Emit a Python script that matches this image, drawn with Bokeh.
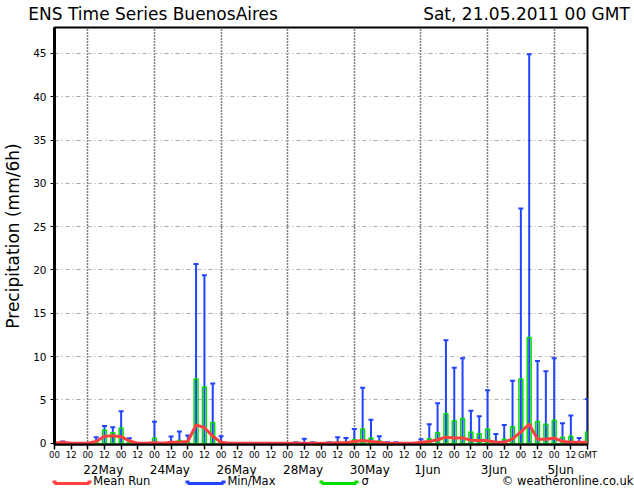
from bokeh.plotting import figure
from bokeh.models import Range1d, FixedTicker, LinearAxis
from bokeh.embed import file_html
from bokeh.resources import INLINE

# ---------------- data (6-hourly steps from Sat 21.05.2011 00 GMT) ----------------
step_hours = 6
max_vals = [0, 0.2, 0, 0, 0, 0.7, 2.0, 1.84, 3.7, 0.56,
            0, 0, 2.48, 0, 0.76, 1.36, 0.9, 20.7, 19.4, 6.9,
            0.8, 0, 0, 0, 0, 0, 0, 0, 0, 0.1,
            0.5, 0.1, 0, 0.1, 0.7, 0.6, 1.65, 6.4, 2.7, 0.8,
            0.1, 0.1, 0, 0, 0.45, 2.2, 4.6, 11.9, 8.7, 9.8,
            3.75, 3.1, 6.1, 1.05, 2.1, 7.2, 27.1, 44.9, 9.5, 8.3,
            9.8, 2.3, 3.2, 0.6, 5.1]
sigma_vals = [0, 0.05, 0, 0, 0, 0.1, 1.5, 1.2, 1.76, 0.1,
              0, 0, 0.56, 0, 0.1, 0.3, 0.1, 7.4, 6.5, 2.4,
              0.1, 0, 0, 0, 0, 0, 0, 0, 0, 0,
              0, 0, 0, 0, 0.1, 0, 0.4, 1.65, 0.6, 0.25,
              0, 0, 0, 0, 0, 0.5, 1.2, 3.4, 2.6, 2.85,
              1.3, 1.1, 1.64, 0.2, 0.47, 1.9, 7.4, 12.2, 2.5, 2.2,
              2.65, 0.7, 0.8, 0.1, 1.3]
mean_vals = [0, 0.1, 0, 0, 0, 0.2, 0.8, 0.85, 0.75, 0.25,
             0, 0, 0.05, 0, 0.1, 0.1, 0.2, 2.1, 1.8, 0.8,
             0.1, 0, 0, 0, 0, 0, 0, 0, 0, 0,
             0, 0, 0, 0, 0.05, 0.05, 0.2, 0.3, 0.2, 0.1,
             0, 0, 0, 0, 0.1, 0.2, 0.4, 0.7, 0.6, 0.6,
             0.35, 0.3, 0.3, 0.1, 0.1, 0.5, 1.3, 2.2, 0.45, 0.45,
             0.6, 0.2, 0.1, 0.1, 0.1]

hour_labels = ["00", "12"] * 16 + ["GMT"]
date_labels = ["22May", "24May", "26May", "28May", "30May", "1Jun", "3Jun", "5Jun"]
date_day_index = [1, 3, 5, 7, 9, 11, 13, 15]   # days after 21 May
y_ticks = [0, 5, 10, 15, 20, 25, 30, 35, 40, 45]

title_text = "ENS Time Series BuenosAires"
run_text = "Sat, 21.05.2011 00 GMT"
legend_texts = ["Mean Run", "Min/Max", "\u03c3"]
credit_text = "\u00a9 weatheronline.co.uk"

RED = "#ff4040"
BLUE = "#2244ff"
GREEN = "#00dd00"
FONT = "DejaVu Sans"

hours = [i * step_hours for i in range(len(max_vals))]
X_END = 384.0
W, H = 634, 490
FRAME_L, FRAME_R = 51, 587
px_per_h = (FRAME_R - FRAME_L) / X_END


def hx(px):
    return round((px - FRAME_L) / px_per_h, 3)


p = figure(width=W, height=H, output_backend="svg", toolbar_location=None,
           x_range=Range1d(0, X_END), y_range=Range1d(-0.15, 48.0),
           min_border_left=FRAME_L, min_border_right=W - FRAME_R, min_border_top=26,
           min_border_bottom=46)
p.background_fill_color = "white"
p.border_fill_color = "white"
p.outline_line_color = "black"
p.outline_line_width = 2

# grids
p.xgrid.ticker = FixedTicker(ticks=[d * 24 for d in date_day_index])
p.xgrid.grid_line_color = "black"
p.xgrid.grid_line_dash = "1 2"
p.xgrid.grid_line_width = 1.5
p.ygrid.ticker = FixedTicker(ticks=y_ticks[1:])
p.ygrid.grid_line_color = "#a8a8a8"
p.ygrid.grid_line_dash = "4 3 1 3"
p.ygrid.grid_line_width = 1

# x axis (hours)
xt = [i * 12 for i in range(len(hour_labels))]
p.xaxis.ticker = FixedTicker(ticks=xt)
p.xaxis.major_label_overrides = {t: lab for t, lab in zip(xt, hour_labels)}
p.xaxis.major_tick_out = 5
p.xaxis.major_tick_in = 0
p.xaxis.minor_tick_line_color = None
p.xaxis.major_tick_line_width = 1.5
p.xaxis.axis_line_width = 2
p.xaxis.major_label_standoff = 0
p.xaxis.major_label_text_font = FONT
p.xaxis.major_label_text_font_size = "8.5px"
p.xaxis.major_label_text_color = "black"

# y axis
p.yaxis.ticker = FixedTicker(ticks=y_ticks)
p.yaxis.major_tick_out = 4
p.yaxis.major_tick_in = 0
p.yaxis.minor_tick_line_color = None
p.yaxis.axis_line_width = 3
p.yaxis.major_label_standoff = 4
p.yaxis.major_label_text_font = FONT
p.yaxis.major_label_text_font_size = "10.5px"
p.yaxis.major_label_text_color = "black"
p.yaxis.axis_label = "Precipitation (mm/6h)"
p.yaxis.axis_label_text_font = FONT
p.yaxis.axis_label_text_font_size = "17px"
p.yaxis.axis_label_text_font_style = "normal"
p.yaxis.axis_label_text_color = "black"
p.yaxis.axis_label_standoff = 7


def text_axis(ticks, labels, size, standoff):
    return LinearAxis(ticker=FixedTicker(ticks=ticks),
                      major_label_overrides={t: lab for t, lab in zip(ticks, labels)},
                      axis_line_color=None, major_tick_line_color=None, minor_tick_line_color=None,
                      major_tick_out=0, major_tick_in=0, major_label_standoff=standoff,
                      major_label_text_font=FONT, major_label_text_font_size=size,
                      major_label_text_color="black")


# header row: title (left) and run time (right)
title_font_px = 17
title_ticks = [hx(25 + 14.73 * title_font_px / 2), hx(629 - 12.16 * title_font_px / 2)]
p.add_layout(text_axis(title_ticks, [title_text, run_text], "%dpx" % title_font_px, 4), "above")

# second row below: date labels (left edge ~5 px before the day's 00 tick)
date_center_px = [(15.5 if lab.endswith("May") else 6.5) for lab in date_labels]
date_ticks = [round(d * 24 + c / px_per_h, 3) for d, c in zip(date_day_index, date_center_px)]
p.add_layout(text_axis(date_ticks, date_labels, "12px", 0), "below")

# spacer row (invisible tick)
mid = X_END / 2
p.add_layout(LinearAxis(ticker=FixedTicker(ticks=[mid]), major_label_overrides={mid: ""},
                        axis_line_color=None, major_tick_line_color=None, minor_tick_line_color=None,
                        major_tick_out=4, major_tick_in=0, major_label_standoff=0,
                        major_label_text_font_size="0px"), "below")

# legend samples: coloured bounded axis lines with square end caps
leg_colors = [RED, BLUE, GREEN]
leg_px = [(51, 86), (185, 221), (319, 355)]
for c, (a, b) in zip(leg_colors, leg_px):
    b0, b1 = hx(a), hx(b)
    p.add_layout(LinearAxis(bounds=(b0, b1), ticker=FixedTicker(ticks=[b0, b1]),
                            major_label_overrides={b0: "", b1: ""},
                            axis_line_color=c, axis_line_width=3,
                            major_tick_line_color=c, major_tick_line_width=4,
                            major_tick_in=3, major_tick_out=0, minor_tick_line_color=None,
                            major_label_standoff=0, major_label_text_font_size="0px"), "below")

# legend texts and credit
leg_font_px = 11.5
leg_centers = [hx(90 + 5.0 * leg_font_px / 2), hx(225 + 4.18 * leg_font_px / 2),
               hx(360 + 0.6 * leg_font_px / 2), hx(633 - 11.48 * leg_font_px / 2)]
p.add_layout(text_axis(leg_centers, legend_texts + [credit_text], "%.1fpx" % leg_font_px, -10), "below")

# data marks
bx = [h for h, m in zip(hours, max_vals) if m > 0]
bm = [m for m in max_vals if m > 0]
p.segment(x0=bx, y0=[0] * len(bx), x1=bx, y1=bm, line_color=BLUE, line_width=2)
p.scatter(x=bx, y=bm, marker="dash", size=5, line_color=BLUE, line_width=2)

sx = [h for h, s in zip(hours, sigma_vals) if s > 0]
ss = [s for s in sigma_vals if s > 0]
p.vbar(x=sx, bottom=0, top=ss, width=2.8, fill_color=None, line_color=GREEN, line_width=1.5)

p.line(hours, mean_vals, line_color=RED, line_width=3)

open("out.html", "w").write(file_html(p, INLINE))
